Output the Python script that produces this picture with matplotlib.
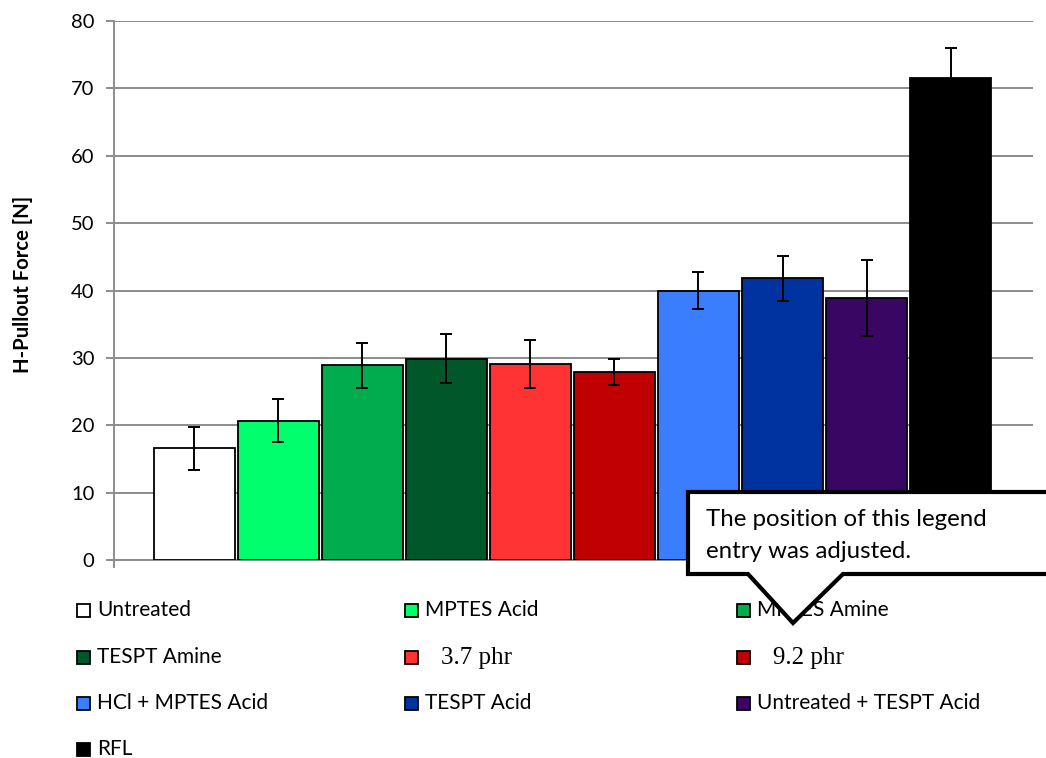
import matplotlib
matplotlib.use("Agg")
import matplotlib.pyplot as plt
from matplotlib.patches import Rectangle, Polygon
import numpy as np

plt.rcParams['font.family'] = ['Lato', 'DejaVu Sans']

# Pull-out force of each cord treatment
categories = ["Untreated", "MPTES Acid", "MPTES Amine", "TESPT Amine",
              "3.7 phr", "9.2 phr", "HCl + MPTES Acid", "TESPT Acid",
              "Untreated + TESPT Acid", "RFL"]
values = [16.6, 20.7, 28.9, 29.9, 29.1, 27.9, 40.0, 41.8, 38.9, 71.6]
errors = [3.2, 3.2, 3.3, 3.6, 3.5, 1.9, 2.8, 3.3, 5.7, 4.4]
colors = ["#FFFFFF", "#00FF6C", "#00AC4E", "#00582A", "#FF3333",
          "#C00000", "#3A7DFF", "#0033A0", "#3A0663", "#000000"]
serif_labels = {"3.7 phr", "9.2 phr"}

W, H = 1046, 758
fig = plt.figure(figsize=(W / 100, H / 100), dpi=100)


def fx(x):
    return x / W


def fy(y):
    return 1 - y / H


ax = fig.add_axes([fx(114), fy(560), (1033 - 114) / W, (560 - 21) / H])

x = np.arange(len(categories))
ax.bar(x, values, width=0.964, color=colors, edgecolor="black",
       linewidth=1.3, zorder=3)
ax.errorbar(x, values, yerr=errors, fmt="none", ecolor="black",
            elinewidth=1.4, capsize=4.0, capthick=1.4, zorder=4)

ax.set_xlim(-0.958, 9.982)
ax.set_ylim(0, 80)
ax.set_yticks(np.arange(0, 81, 10))
ax.yaxis.grid(True, color="#8C8C8C", linewidth=1.4, zorder=0)
ax.set_axisbelow(True)
for s in ["top", "right"]:
    ax.spines[s].set_visible(False)
for s in ["left", "bottom"]:
    ax.spines[s].set_color("#8C8C8C")
    ax.spines[s].set_linewidth(1.4)
ax.tick_params(axis="y", length=6, width=1.4, color="#8C8C8C",
               labelsize=14.5, pad=8)
ax.set_xticks([-0.958])
ax.tick_params(axis="x", length=6, width=1.4, color="#8C8C8C",
               labelbottom=False)
ax.set_ylabel("H-Pullout Force [N]", fontsize=14.6, fontweight="bold")
ax.yaxis.set_label_coords(-0.088, 0.512)

# Legend laid out in three columns, filled row by row
col_x = [77, 405, 737]
row_y = [610, 657, 703, 749]
sq = 13
for i, (lab, col) in enumerate(zip(categories, colors)):
    r, c = divmod(i, 3)
    mx, my = col_x[c], row_y[r]
    fig.add_artist(Rectangle((fx(mx), fy(my + sq / 2)), sq / W, sq / H,
                             transform=fig.transFigure, facecolor=col,
                             edgecolor="black", linewidth=1.3, zorder=2))
    if lab in serif_labels:
        fig.text(fx(mx + 36), fy(my + 1), lab, fontsize=18,
                 family=["Liberation Serif", "DejaVu Serif"],
                 va="center", ha="left", zorder=2)
    else:
        fig.text(fx(mx + 20), fy(my), lab, fontsize=15,
                 va="center", ha="left", zorder=2)

# Callout bubble
bubble = [(688, 492), (1060, 492), (1060, 574), (843, 574), (793, 623),
          (748, 574), (688, 574)]
fig.add_artist(Polygon([(fx(a), fy(b)) for a, b in bubble], closed=True,
                       transform=fig.transFigure, facecolor="white",
                       edgecolor="black", linewidth=3.0, joinstyle="miter",
                       zorder=10))
fig.text(fx(706), fy(519), "The position of this legend", fontsize=17.3,
         va="center", ha="left", zorder=11)
fig.text(fx(706), fy(551), "entry was adjusted.", fontsize=17.3,
         va="center", ha="left", zorder=11)

fig.savefig("out.png", dpi=100)
